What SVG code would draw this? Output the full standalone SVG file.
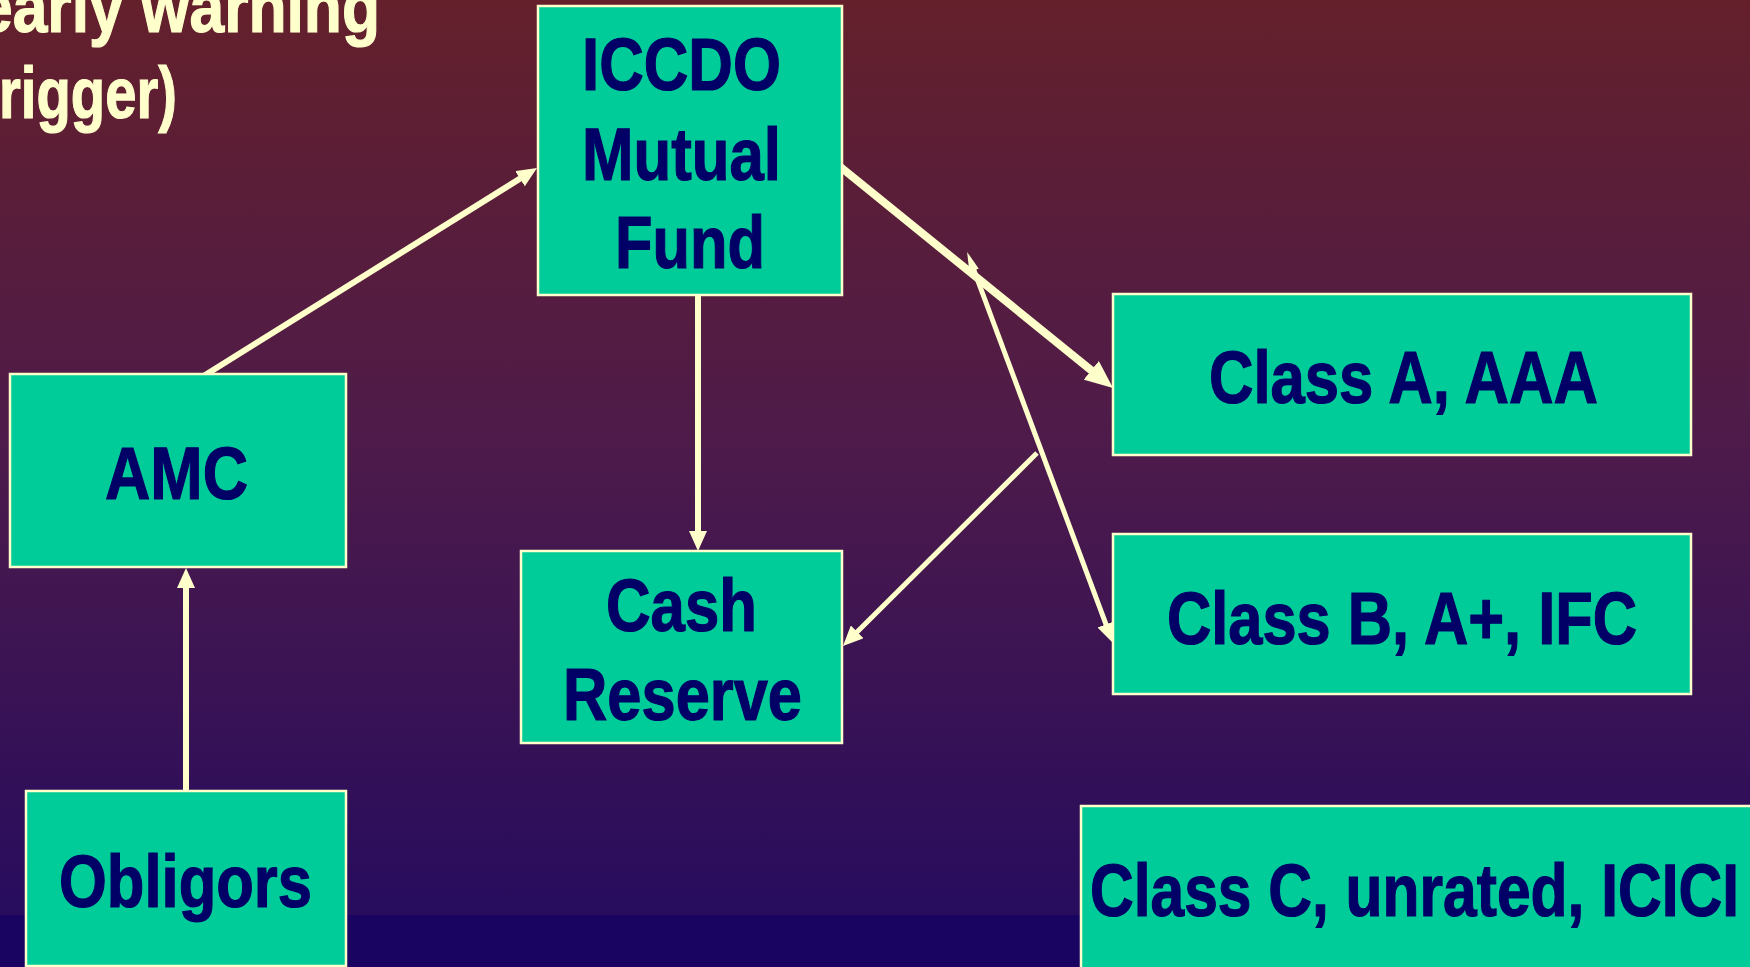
<svg xmlns="http://www.w3.org/2000/svg" width="1750" height="967" viewBox="0 0 1750 967">
<defs>
<linearGradient id="bg" x1="0" y1="0" x2="0" y2="1">
<stop offset="0" stop-color="#64202B"/>
<stop offset="0.45" stop-color="#4E1B4A"/>
<stop offset="1" stop-color="#230A60"/>
</linearGradient>
<marker id="head" markerUnits="userSpaceOnUse" markerWidth="20" markerHeight="18" refX="8" refY="9" orient="auto" viewBox="0 0 20 18">
<path d="M0,0 L20,9 L0,18 Z" fill="#FFFFCC"/>
</marker>
<marker id="headL" markerUnits="userSpaceOnUse" markerWidth="28" markerHeight="24" refX="12" refY="12" orient="auto" viewBox="0 0 28 24">
<path d="M0,0 L28,12 L0,24 Z" fill="#FFFFCC"/>
</marker>
<marker id="headS" markerUnits="userSpaceOnUse" markerWidth="20" markerHeight="10" refX="6" refY="5" orient="auto-start-reverse" viewBox="0 0 20 10">
<path d="M0,0 L20,5 L0,10 Z" fill="#FFFFCC"/>
</marker>
</defs>
<style>
.box{fill:#00CC99;stroke:#FFFFCC;stroke-width:2.5}
.lbl{font-family:"Liberation Sans Narrow","Liberation Sans",Arial,sans-serif;font-weight:bold;font-size:75px;fill:#000066;stroke:#000066;stroke-width:1.2}
.note{font-family:"Liberation Sans Narrow","Liberation Sans",Arial,sans-serif;font-weight:bold;font-size:72px;fill:#FFFFCC;stroke:#FFFFCC;stroke-width:1.2}
.con{stroke:#FFFFCC;fill:none;stroke-linecap:butt}
</style>
<rect x="0" y="0" width="1750" height="967" fill="url(#bg)"/>
<rect x="0" y="915" width="1750" height="52" fill="#1A0462"/>

<g id="note">
<text class="note" x="-22" y="32" textLength="402" lengthAdjust="spacingAndGlyphs">early warning</text>
<text class="note" x="-1" y="118" textLength="178" lengthAdjust="spacingAndGlyphs">rigger)</text>
</g>

<g id="connectors">
<line class="con" x1="202" y1="377" x2="526.8" y2="174.4" stroke-width="6" marker-end="url(#head)"/>
<line class="con" x1="186" y1="793" x2="186" y2="580" stroke-width="6" marker-end="url(#head)"/>
<line class="con" x1="698" y1="293" x2="698" y2="539" stroke-width="6" marker-end="url(#head)"/>
<line class="con" x1="838" y1="165" x2="1100.6" y2="377.9" stroke-width="8" marker-end="url(#headL)"/>
<line class="con" x1="972" y1="265" x2="1108.8" y2="631.8" stroke-width="5" marker-start="url(#headS)" marker-end="url(#head)"/>
<line class="con" x1="1037" y1="453" x2="851.5" y2="637.5" stroke-width="5" marker-end="url(#head)"/>
</g>

<g id="iccdo">
<rect class="box" x="538" y="6" width="304" height="289"/>
<text class="lbl" x="582" y="90" textLength="199" lengthAdjust="spacingAndGlyphs">ICCDO</text>
<text class="lbl" x="582" y="180" textLength="199" lengthAdjust="spacingAndGlyphs">Mutual</text>
<text class="lbl" x="615" y="268" textLength="150" lengthAdjust="spacingAndGlyphs">Fund</text>
</g>

<g id="amc">
<rect class="box" x="10" y="374" width="336" height="193"/>
<text class="lbl" x="105" y="499" textLength="143" lengthAdjust="spacingAndGlyphs">AMC</text>
</g>

<g id="obligors">
<rect class="box" x="26" y="791" width="320" height="175"/>
<text class="lbl" x="59" y="907" textLength="253" lengthAdjust="spacingAndGlyphs">Obligors</text>
</g>

<g id="cash">
<rect class="box" x="521" y="551" width="321" height="192"/>
<text class="lbl" x="606" y="631" textLength="151" lengthAdjust="spacingAndGlyphs">Cash</text>
<text class="lbl" x="563" y="720" textLength="239" lengthAdjust="spacingAndGlyphs">Reserve</text>
</g>

<g id="classA">
<rect class="box" x="1113" y="294" width="578" height="161"/>
<text class="lbl" x="1209" y="403" textLength="389" lengthAdjust="spacingAndGlyphs">Class A, AAA</text>
</g>

<g id="classB">
<rect class="box" x="1113" y="534" width="578" height="160"/>
<text class="lbl" x="1167" y="644" textLength="470" lengthAdjust="spacingAndGlyphs">Class B, A+, IFC</text>
</g>

<g id="classC">
<rect class="box" x="1081" y="806" width="700" height="200"/>
<text class="lbl" x="1090" y="916" textLength="649" lengthAdjust="spacingAndGlyphs">Class C, unrated, ICICI</text>
</g>
</svg>
